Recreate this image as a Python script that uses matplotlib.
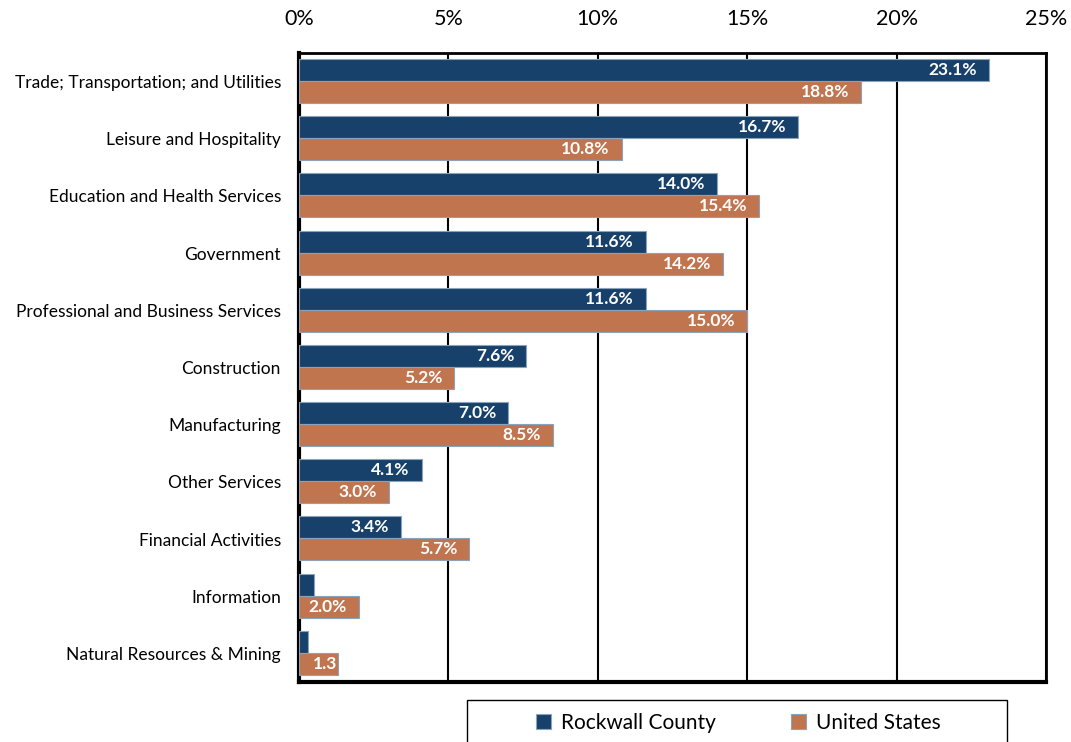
import numpy as np
import matplotlib
matplotlib.use("Agg")
import matplotlib.pyplot as plt
from matplotlib.patches import Rectangle
from matplotlib.transforms import Bbox, TransformedBbox

plt.rcParams['font.family'] = ['Lato', 'DejaVu Sans']

categories = ['Trade; Transportation; and Utilities', 'Leisure and Hospitality',
              'Education and Health Services', 'Government',
              'Professional and Business Services', 'Construction', 'Manufacturing',
              'Other Services', 'Financial Activities', 'Information',
              'Natural Resources & Mining']
rockwall = [23.1, 16.7, 14.0, 11.6, 11.6, 7.6, 7.0, 4.1, 3.4, 0.5, 0.3]
us = [18.8, 10.8, 15.4, 14.2, 15.0, 5.2, 8.5, 3.0, 5.7, 2.0, 1.3]
xticks = [0, 5, 10, 15, 20, 25]

blue = '#17416B'
orange = '#C0754F'

fig = plt.figure(figsize=(10.71, 7.42), dpi=100)
ax = fig.add_axes([299/1071, 1 - 682/742, (1046-299)/1071, (682-53)/742])

y = np.arange(len(categories))
h = 0.385
b1 = ax.barh(y - h/2 - 0.01, rockwall, height=h, color=blue, edgecolor='#8aa2ba', lw=0.8, zorder=3, label='Rockwall County')
b2 = ax.barh(y + h/2 - 0.01, us, height=h, color=orange, edgecolor='#8aa2ba', lw=0.8, zorder=3, label='United States')

# value labels inside the bar end, clipped to the bar like Excel does
for bars, vals, off in [(b1, rockwall, -h/2 - 0.01), (b2, us, h/2 - 0.01)]:
    for yi, v in zip(y, vals):
        if v >= 1.5:
            t = ax.text(v - 0.4, yi + off, f'{v:.1f}%', ha='right', va='center',
                        color='white', fontsize=12.5, fontweight='bold', zorder=4)
        else:
            t = ax.text(0.45, yi + off, f'{v:.1f}%', ha='left', va='center',
                        color='white', fontsize=12.5, fontweight='bold', zorder=4)
            t.set_clip_box(TransformedBbox(Bbox([[0, yi + off - h/2], [v - 0.05, yi + off + h/2]]), ax.transData))
            t.set_clip_on(True)

ax.set_xlim(0, 25)
ax.set_ylim(len(categories) - 0.5, -0.5)
ax.set_xticks(xticks)
ax.set_xticklabels([f'{t}%' for t in xticks])
ax.xaxis.tick_top()
ax.set_yticks(y)
ax.set_yticklabels(categories)
ax.tick_params(axis='x', length=0, pad=17, labelsize=15.5)
ax.tick_params(axis='y', length=0, pad=13, labelsize=12.5)
ax.grid(axis='x', color='black', lw=1.5, zorder=1)

for side in ['top', 'right']:
    ax.spines[side].set_linewidth(2)
for side in ['left', 'bottom']:
    ax.spines[side].set_linewidth(3)

# legend box, cut off at the bottom edge
fig.patches.append(Rectangle((467/1071, -0.05), 540/1071, 0.05 + 1 - 700/742,
                             transform=fig.transFigure, fill=False, edgecolor='black', lw=1))
fig.legend(handles=[b1, b2], loc='center', bbox_to_anchor=(738/1071, 1 - 723/742),
           ncol=2, frameon=False, fontsize=15, handlelength=0.75, handleheight=0.75,
           handletextpad=0.45, columnspacing=3.6)

fig.savefig('out.png', dpi=100)
